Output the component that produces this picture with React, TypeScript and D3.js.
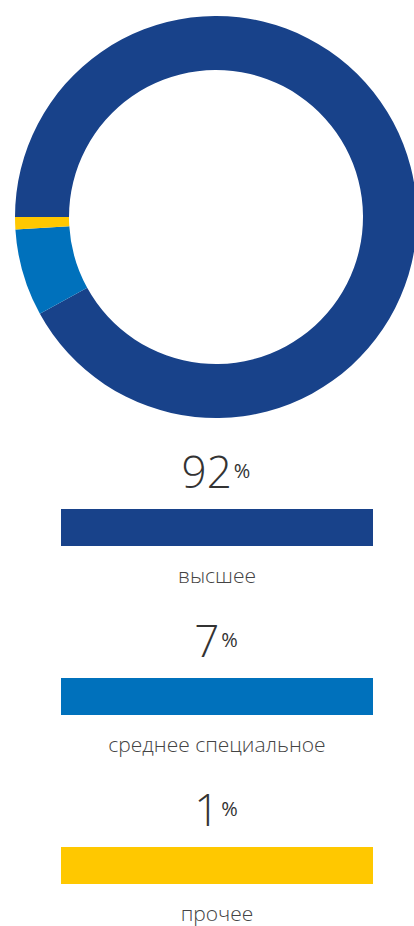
import React from "react";
import * as d3 from "d3";

const categories = ["высшее", "среднее специальное", "прочее"];
const values = [92, 7, 1];
const colors = ["#18428a", "#0071bc", "#ffc800"];

const W = 414;
const H = 926;

export default function App() {
  const cx = 216;
  const cy = 217;
  const outerR = 201;
  const innerR = 147;

  const pie = d3
    .pie<number>()
    .sort(null)
    .value((d) => d)
    .startAngle(-Math.PI / 2)
    .endAngle((3 * Math.PI) / 2);
  const arcs = pie(values);
  const arc = d3.arc<d3.PieArcDatum<number>>().innerRadius(innerR).outerRadius(outerR);

  const rowY = d3
    .scaleLinear()
    .domain([0, 1])
    .range([488, 488 + 169]);
  const barX = d3.scaleLinear().domain([0, 1]).range([61, 373]);

  const font = "'Open Sans', 'Noto Sans', sans-serif";

  return (
    <svg
      width={W}
      height={H}
      style={{ position: "absolute", left: 0, top: 0, display: "block", overflow: "hidden" }}
    >
      <rect width={W} height={H} fill="#ffffff" />
      <g transform={`translate(${cx},${cy})`}>
        {arcs.map((a, i) => (
          <path key={i} d={arc(a) || ""} fill={colors[i]} />
        ))}
      </g>
      {categories.map((c, i) => {
        const base = rowY(i);
        return (
          <g key={c}>
            <text
              x={216}
              y={base}
              textAnchor="middle"
              fontFamily={font}
              fill="#333333"
            >
              <tspan fontSize={44} fontWeight={300}>
                {values[i]}
              </tspan>
              <tspan fontSize={20} fontWeight={400} dx={2} dy={-10}>
                %
              </tspan>
            </text>
            <rect
              x={barX(0)}
              y={base + 21}
              width={barX(1) - barX(0)}
              height={37}
              fill={colors[i]}
            />
            <text
              x={217}
              y={base + 95}
              textAnchor="middle"
              fontFamily={font}
              fontSize={21}
              fontWeight={300}
              fill="#444444"
            >
              {c}
            </text>
          </g>
        );
      })}
    </svg>
  );
}
